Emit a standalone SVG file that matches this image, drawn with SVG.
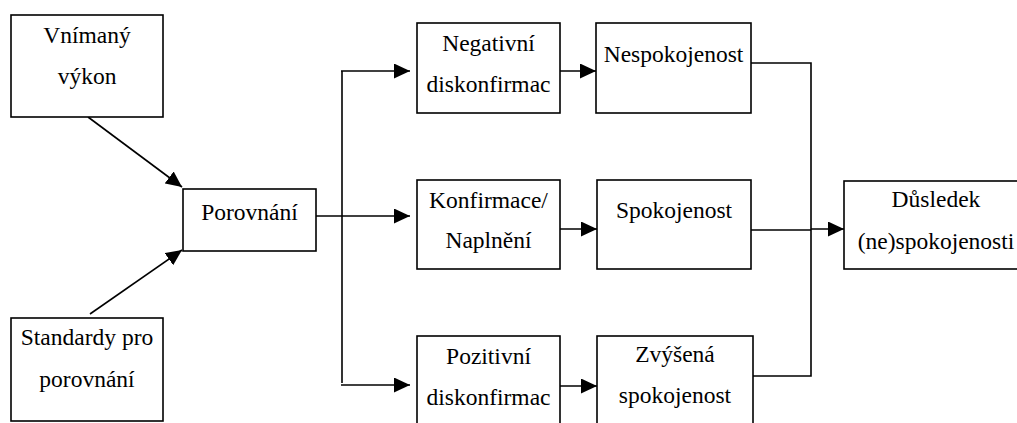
<svg xmlns="http://www.w3.org/2000/svg" width="1017" height="423" viewBox="0 0 1017 423">
<style>
.box{fill:#fff;stroke:#000;stroke-width:1.6}
.c{fill:none;stroke:#000;stroke-width:1.6}
</style>
<defs>
<marker id="ah" markerUnits="userSpaceOnUse" markerWidth="16" markerHeight="15" refX="16" refY="7.5" orient="auto" viewBox="0 0 16 15">
<path d="M0,0 L16,7.5 L0,15 z" fill="#000"/>
</marker>
</defs>
<rect width="1017" height="423" fill="#fff"/>
<g id="connectors">
<line class="c" x1="88" y1="117" x2="182" y2="187" marker-end="url(#ah)"/>
<line class="c" x1="90" y1="314" x2="182" y2="250" marker-end="url(#ah)"/>
<line class="c" x1="316" y1="216" x2="410" y2="216" marker-end="url(#ah)"/>
<line class="c" x1="342" y1="71" x2="342" y2="383"/>
<line class="c" x1="341" y1="71" x2="410" y2="71" marker-end="url(#ah)"/>
<line class="c" x1="341" y1="385" x2="410" y2="385" marker-end="url(#ah)"/>
<line class="c" x1="560" y1="71" x2="596" y2="71" marker-end="url(#ah)"/>
<line class="c" x1="560" y1="229" x2="597" y2="229" marker-end="url(#ah)"/>
<line class="c" x1="560" y1="386" x2="597" y2="386" marker-end="url(#ah)"/>
<polyline class="c" points="751,63 811,63 811,376 753,376"/>
<line class="c" x1="751" y1="230" x2="811" y2="230"/>
<line class="c" x1="811" y1="229" x2="844" y2="229" marker-end="url(#ah)"/>
</g>
<g font-family="Liberation Serif, serif" font-size="23.5" fill="#000" text-anchor="middle">
<g id="vnimany">
<rect class="box" x="11" y="15" width="152" height="102"/>
<text x="87" y="43">Vnímaný</text>
<text x="87" y="84">výkon</text>
</g>
<g id="porovnani">
<rect class="box" x="183" y="189" width="133" height="62"/>
<text x="249.5" y="220">Porovnání</text>
</g>
<g id="standardy">
<rect class="box" x="11" y="318" width="152" height="103"/>
<text x="87" y="345">Standardy pro</text>
<text x="87" y="387">porovnání</text>
</g>
<g id="negativni">
<rect class="box" x="417" y="23" width="143" height="90"/>
<text x="488.5" y="51">Negativní</text>
<text x="488.5" y="92">diskonfirmac</text>
</g>
<g id="nespokojenost">
<rect class="box" x="596" y="23" width="155" height="90"/>
<text x="673.5" y="62">Nespokojenost</text>
</g>
<g id="konfirmace">
<rect class="box" x="417" y="180" width="143" height="89"/>
<text x="488.5" y="208">Konfirmace/</text>
<text x="488.5" y="248">Naplnění</text>
</g>
<g id="spokojenost">
<rect class="box" x="597" y="180" width="154" height="89"/>
<text x="674" y="218">Spokojenost</text>
</g>
<g id="pozitivni">
<rect class="box" x="417" y="336" width="143" height="95"/>
<text x="488.5" y="364">Pozitivní</text>
<text x="488.5" y="405">diskonfirmac</text>
</g>
<g id="zvysena">
<rect class="box" x="597" y="336" width="156" height="95"/>
<text x="675" y="362">Zvýšená</text>
<text x="675" y="403">spokojenost</text>
</g>
<g id="dusledek">
<rect class="box" x="844" y="181" width="186" height="88"/>
<text x="936" y="207">Důsledek</text>
<text x="936" y="249">(ne)spokojenosti</text>
</g>
</g>
</svg>
